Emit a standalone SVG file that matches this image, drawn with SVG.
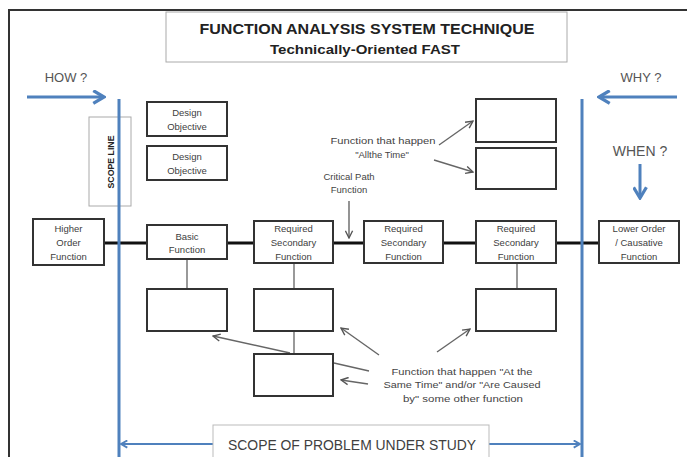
<svg xmlns="http://www.w3.org/2000/svg" width="687" height="457" viewBox="0 0 687 457">
<style>
text{font-family:"Liberation Sans",Arial,sans-serif;fill:#404040;text-anchor:middle}
.box{fill:#fff;stroke:#333;stroke-width:2}
.bt{font-size:9.5px}
.lbl{font-size:9.5px;fill:#444}
.blue{stroke:#4F81BD;stroke-width:3;fill:none}
.gline{stroke:#666;stroke-width:1.4;fill:none}
.vconn{stroke:#808080;stroke-width:1.6;fill:none}
</style>
<defs>
<marker id="ah" viewBox="0 0 10 10" refX="9" refY="5" markerWidth="9" markerHeight="9" markerUnits="userSpaceOnUse" orient="auto"><path d="M1,1 L9,5 L1,9" fill="none" stroke="#555" stroke-width="1.5"/></marker>
<marker id="bh" viewBox="0 0 14 14" refX="12" refY="7" markerWidth="15" markerHeight="15" markerUnits="userSpaceOnUse" orient="auto"><path d="M2,1 L12,7 L2,13" fill="none" stroke="#4F81BD" stroke-width="3"/></marker>
<marker id="sh" viewBox="0 0 10 10" refX="9" refY="5" markerWidth="9" markerHeight="9" markerUnits="userSpaceOnUse" orient="auto"><path d="M2,1 L9,5 L2,9" fill="none" stroke="#4F81BD" stroke-width="2"/></marker>
</defs>
<rect width="687" height="457" fill="#fff"/>
<!-- outer frame -->
<path d="M9,470 V10 H700" fill="none" stroke="#333" stroke-width="2"/>

<g id="title">
<rect x="166" y="12" width="401" height="50" fill="#fff" stroke="#aaa" stroke-width="1"/>
<text x="367" y="34" style="font-size:15px;font-weight:bold;fill:#222" textLength="335" lengthAdjust="spacingAndGlyphs">FUNCTION ANALYSIS SYSTEM TECHNIQUE</text>
<text x="365" y="54" style="font-size:12px;font-weight:bold;fill:#222" textLength="190" lengthAdjust="spacingAndGlyphs">Technically-Oriented  FAST</text>
</g>

<g id="how"><text x="66" y="82" style="font-size:13px;fill:#555">HOW  ?</text></g>
<g id="why"><text x="641" y="82" style="font-size:13px;fill:#555">WHY  ?</text></g>
<g id="when"><text x="640" y="156" style="font-size:14px;fill:#555">WHEN  ?</text></g>

<g id="scopeline-label">
<rect x="89" y="117" width="42" height="89" fill="#fff" stroke="#aaa" stroke-width="1"/>
<text transform="translate(114,162) rotate(-90)" style="font-size:9px;font-weight:bold;fill:#222" textLength="53" lengthAdjust="spacingAndGlyphs">SCOPE LINE</text>
</g>

<g id="connectors">
<!-- critical path main line -->
<line x1="104" y1="243" x2="599" y2="243" stroke="#111" stroke-width="3"/>
<!-- vertical connectors -->
<line class="vconn" x1="187" y1="259" x2="187" y2="289"/>
<line class="vconn" x1="294" y1="263" x2="294" y2="354"/>
<line class="vconn" x1="517" y1="263" x2="517" y2="289"/>
<!-- annotation arrows -->
<line class="gline" x1="439" y1="145" x2="473" y2="121" marker-end="url(#ah)"/>
<line class="gline" x1="434" y1="160" x2="473" y2="172" marker-end="url(#ah)"/>
<line class="gline" x1="349" y1="201" x2="349" y2="238" marker-end="url(#ah)"/>
<line class="gline" x1="290" y1="353" x2="213" y2="336" marker-end="url(#ah)"/>
<line class="gline" x1="379" y1="355" x2="341" y2="328" marker-end="url(#ah)"/>
<line class="gline" x1="369" y1="371" x2="334" y2="363"/>
<line class="gline" x1="368" y1="384" x2="341" y2="380" marker-end="url(#ah)"/>
<line class="gline" x1="437" y1="352" x2="470" y2="329" marker-end="url(#ah)"/>
<!-- blue direction arrows -->
<line class="blue" x1="27" y1="97" x2="104" y2="97" marker-end="url(#bh)"/>
<line class="blue" x1="677" y1="97" x2="599" y2="97" marker-end="url(#bh)"/>
<line class="blue" x1="640" y1="164" x2="640" y2="198" marker-end="url(#bh)"/>
<!-- scope of problem arrows -->
<line x1="213" y1="444" x2="121" y2="444" stroke="#4F81BD" stroke-width="2" marker-end="url(#sh)"/>
<line x1="489" y1="444" x2="580" y2="444" stroke="#4F81BD" stroke-width="2" marker-end="url(#sh)"/>
</g>

<g id="design-objective-1">
<rect class="box" x="147" y="102" width="80" height="34"/>
<text class="bt" x="187" y="116">Design</text>
<text class="bt" x="187" y="130">Objective</text>
</g>
<g id="design-objective-2">
<rect class="box" x="147" y="146" width="80" height="34"/>
<text class="bt" x="187" y="160">Design</text>
<text class="bt" x="187" y="174">Objective</text>
</g>
<g id="higher-order">
<rect class="box" x="33" y="219" width="71" height="46"/>
<text class="bt" x="68.5" y="232">Higher</text>
<text class="bt" x="68.5" y="246">Order</text>
<text class="bt" x="68.5" y="260">Function</text>
</g>
<g id="basic-function">
<rect class="box" x="147" y="225" width="80" height="34"/>
<text class="bt" x="187" y="240">Basic</text>
<text class="bt" x="187" y="253">Function</text>
</g>
<g id="rsf-1">
<rect class="box" x="254" y="221" width="79" height="42"/>
<text class="bt" x="293.5" y="232">Required</text>
<text class="bt" x="293.5" y="246">Secondary</text>
<text class="bt" x="293.5" y="260">Function</text>
</g>
<g id="rsf-2">
<rect class="box" x="364" y="221" width="79" height="42"/>
<text class="bt" x="403.5" y="232">Required</text>
<text class="bt" x="403.5" y="246">Secondary</text>
<text class="bt" x="403.5" y="260">Function</text>
</g>
<g id="rsf-3">
<rect class="box" x="476" y="221" width="80" height="42"/>
<text class="bt" x="516" y="232">Required</text>
<text class="bt" x="516" y="246">Secondary</text>
<text class="bt" x="516" y="260">Function</text>
</g>
<g id="lower-order">
<rect class="box" x="599" y="221" width="80" height="42"/>
<text class="bt" x="639" y="232">Lower Order</text>
<text class="bt" x="639" y="246">/ Causative</text>
<text class="bt" x="639" y="260">Function</text>
</g>
<g id="all-time-1"><rect class="box" x="476" y="99" width="80" height="43"/></g>
<g id="all-time-2"><rect class="box" x="476" y="148" width="80" height="41"/></g>
<g id="same-time-1"><rect class="box" x="147" y="289" width="80" height="42"/></g>
<g id="same-time-2"><rect class="box" x="254" y="289" width="79" height="42"/></g>
<g id="same-time-3"><rect class="box" x="254" y="354" width="79" height="42"/></g>
<g id="same-time-4"><rect class="box" x="476" y="289" width="80" height="42"/></g>

<g id="label-all-time">
<text class="lbl" x="383" y="144" textLength="105" lengthAdjust="spacingAndGlyphs">Function that happen</text>
<text class="lbl" x="382" y="158">"Allthe Time"</text>
</g>
<g id="label-critical">
<text class="lbl" x="349" y="180">Critical Path</text>
<text class="lbl" x="349" y="193">Function</text>
</g>
<g id="label-same-time">
<text class="lbl" x="462" y="375" textLength="141" lengthAdjust="spacingAndGlyphs">Function that happen "At the</text>
<text class="lbl" x="462" y="388" textLength="157" lengthAdjust="spacingAndGlyphs">Same Time" and/or "Are Caused</text>
<text class="lbl" x="463" y="402" textLength="120" lengthAdjust="spacingAndGlyphs">by" some other function</text>
</g>

<g id="scope-lines">
<line class="blue" x1="119" y1="99" x2="119" y2="457"/>
<line class="blue" x1="582" y1="99" x2="582" y2="457"/>
</g>

<g id="scope-of-problem">
<rect x="213" y="425" width="276" height="40" fill="#fff" stroke="#bbb" stroke-width="1"/>
<text x="352" y="450" style="font-size:14px;fill:#404040" textLength="248" lengthAdjust="spacingAndGlyphs">SCOPE OF PROBLEM  UNDER STUDY</text>
</g>
</svg>
